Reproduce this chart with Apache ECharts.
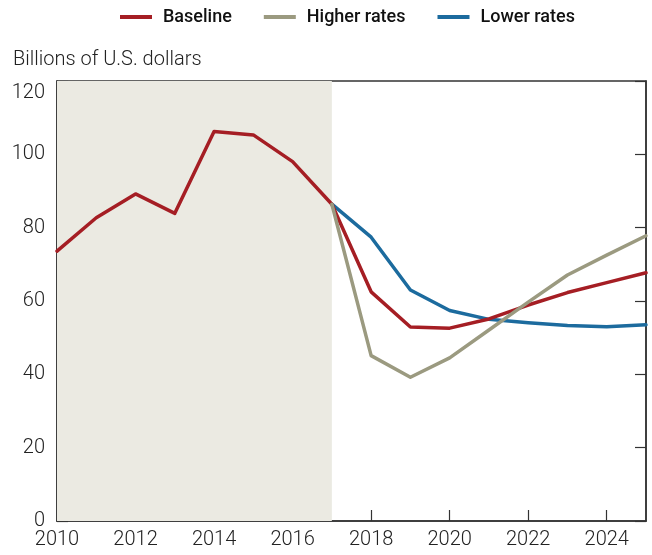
<!DOCTYPE html>
<html>
<head>
<meta charset="utf-8">
<script src="https://cdn.jsdelivr.net/npm/echarts@6/dist/echarts.min.js"></script>
<style>
  html, body { margin: 0; padding: 0; background: #ffffff; }
  #chart { width: 652px; height: 555px; }
</style>
</head>
<body>
<div id="chart"></div>
<script>
// Projected values, billions of U.S. dollars
const years = [2010, 2011, 2012, 2013, 2014, 2015, 2016, 2017, 2018, 2019, 2020, 2021, 2022, 2023, 2024, 2025];
const baseline = [73.6, 82.7, 89.2, 83.9, 106.2, 105.3, 98.0, 86.4, 62.5, 52.9, 52.6, 55.1, 58.9, 62.3, 65.0, 67.7];
const higherRates = [null, null, null, null, null, null, null, 86.4, 45.1, 39.2, 44.5, 52.1, 59.7, 67.1, 72.5, 77.8];
const lowerRates = [null, null, null, null, null, null, null, 86.4, 77.4, 63.0, 57.4, 55.0, 54.1, 53.3, 53.0, 53.5];
const historyEnd = 2017;
const yTicks = [0, 20, 40, 60, 80, 100, 120];

const FONT = 'Roboto';
const INK = '#222222';
const AXIS = '#333333';
const LABEL_SIZE = 20;

const pairs = arr => years.map((y, i) => [y, arr[i]]);

const chart = echarts.init(document.getElementById('chart'), null, { renderer: 'canvas' });

const lineSeries = (name, data, color, extra) => Object.assign({
  name: name,
  type: 'line',
  data: pairs(data),
  showSymbol: false,
  symbol: 'none',
  connectNulls: false,
  lineStyle: { color: color, width: 3.5, join: 'round', cap: 'round' },
  itemStyle: { color: color },
  emphasis: { disabled: true },
  animation: false
}, extra || {});

chart.setOption({
  animation: false,
  backgroundColor: '#ffffff',
  textStyle: { fontFamily: FONT },
  title: {
    text: 'Billions of U.S. dollars',
    left: 8,
    top: 45,
    textStyle: { fontFamily: FONT, fontSize: LABEL_SIZE, fontWeight: 300, color: INK }
  },
  legend: {
    data: ['Baseline', 'Higher rates', 'Lower rates'],
    top: 3,
    left: 115,
    itemWidth: 32,
    itemHeight: 4,
    itemGap: 32,
    icon: 'rect',
    textStyle: { fontFamily: FONT, fontSize: 18, fontWeight: 500, color: '#111111', padding: [0, 0, 0, 6] }
  },
  grid: {
    left: 57, right: 6, top: 81, bottom: 34,
    show: true,
    borderColor: AXIS,
    borderWidth: 1.5,
    backgroundColor: 'transparent'
  },
  xAxis: {
    type: 'value',
    min: 2010,
    max: 2025,
    interval: 2,
    axisLine: { show: true, lineStyle: { color: AXIS, width: 1.5 } },
    axisTick: { show: true, inside: true, length: 11, lineStyle: { color: AXIS, width: 1.2 } },
    splitLine: { show: false },
    axisLabel: {
      showMaxLabel: false,
      margin: 9,
      fontFamily: FONT, fontSize: LABEL_SIZE, fontWeight: 300, color: INK,
      formatter: v => String(v)
    }
  },
  yAxis: [
    {
      type: 'value',
      min: 0,
      max: 120,
      interval: 20,
      axisLine: { show: true, lineStyle: { color: AXIS, width: 1.5 } },
      axisTick: { show: true, inside: true, length: 11, lineStyle: { color: AXIS, width: 1.2 } },
      splitLine: { show: false },
      axisLabel: {
        margin: 12,
        fontFamily: FONT, fontSize: LABEL_SIZE, fontWeight: 300, color: INK,
        formatter: v => v === yTicks[yTicks.length - 1] ? '{top|' + v + '}' : String(v),
        rich: { top: { fontFamily: FONT, fontSize: LABEL_SIZE, fontWeight: 300, color: INK, padding: [24, 0, 0, 0] } }
      }
    },
    {
      type: 'value',
      position: 'right',
      min: 0,
      max: 120,
      interval: 20,
      axisLine: { show: true, lineStyle: { color: AXIS, width: 1.5 } },
      axisTick: { show: true, inside: true, length: 11, lineStyle: { color: AXIS, width: 1.2 } },
      splitLine: { show: false },
      axisLabel: { show: false }
    }
  ],
  series: [
    lineSeries('Lower rates', lowerRates, '#1c6b9e', {
      z: 2,
      markArea: {
        silent: true,
        itemStyle: { color: '#ebeae2' },
        data: [[{ xAxis: years[0] }, { xAxis: historyEnd }]]
      }
    }),
    lineSeries('Baseline', baseline, '#a51e24', { z: 3 }),
    lineSeries('Higher rates', higherRates, '#9b9a80', { z: 4 })
  ]
});
</script>
</body>
</html>
